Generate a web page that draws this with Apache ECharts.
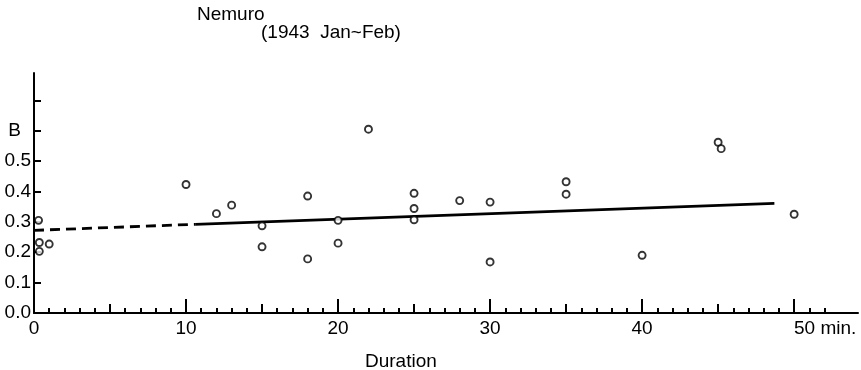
<!DOCTYPE html>
<html>
<head>
<meta charset="utf-8">
<script src="https://cdn.jsdelivr.net/npm/echarts@6/dist/echarts.min.js"></script>
<style>html,body{margin:0;padding:0;background:#fff}#c{width:861px;height:370px}</style>
</head>
<body>
<div id="c"></div>
<script>
// Observations: duration (min) and B
var durations = [0.3, 0.35, 1.0, 0.35, 10, 12, 13, 15, 15, 18, 18, 20, 20, 22, 25, 25, 25, 28, 30, 30, 35, 35, 40, 45, 45.2, 50];
var bValues   = [0.305, 0.232, 0.227, 0.203, 0.423, 0.327, 0.355, 0.287, 0.218, 0.385, 0.178, 0.305, 0.23, 0.605, 0.394, 0.344, 0.307, 0.37, 0.365, 0.168, 0.432, 0.391, 0.19, 0.562, 0.541, 0.325];
// Regression line: dashed (extrapolated) part and solid part
var fitDashedX = [0, 10.6];
var fitDashedY = [0.272, 0.292];
var fitSolidX = [10.6, 48.7];
var fitSolidY = [0.292, 0.361];
// Tick values
var yTicks = [0, 0.1, 0.2, 0.3, 0.4, 0.5, 0.6, 0.7];
var yTickLabels = ['0.0', '0.1', '0.2', '0.3', '0.4', '0.5', 'B', ''];
var xMinorTicks = [1,2,3,4,6,7,8,9,11,12,13,14,16,17,18,19,21,22,23,24,26,27,28,29,31,32,33,34,36,37,38,39,41,42,43,44,46,47,48,49,51,52];
var xMidTicks = [5, 15, 25, 35, 45];
var xMajorTicks = [0, 10, 20, 30, 40, 50];
var xMajorLabels = ['0', '10', '20', '30', '40', '50 min.'];

var FONT = '"Liberation Sans", Arial, sans-serif';
var chart = echarts.init(document.getElementById('c'));

function pairs(xs, ys) { return xs.map(function (x, i) { return [x, ys[i]]; }); }

function xAxisCfg(ticks, len, showLine, showLabels) {
  return {
    type: 'value', min: 0, max: 54.2, position: 'bottom', gridIndex: 0,
    axisLine: { show: showLine, onZero: false, lineStyle: { color: '#000', width: 2 } },
    splitLine: { show: false },
    axisTick: { show: true, inside: true, length: len, customValues: ticks, lineStyle: { color: '#000', width: 2 } },
    axisLabel: showLabels ? {
      show: true, customValues: xMajorTicks, margin: 6, color: '#000', fontFamily: FONT, fontSize: 19,
      formatter: function (v) {
        var i = xMajorTicks.indexOf(Math.round(v));
        var t = i >= 0 ? xMajorLabels[i] : '';
        return t.indexOf('min') >= 0 ? '{m|' + t + '}' : t;
      },
      rich: { m: { fontFamily: FONT, fontSize: 19, color: '#000', padding: [0, 0, 0, 62] } }
    } : { show: false }
  };
}

chart.setOption({
  animation: false,
  backgroundColor: '#fff',
  title: [
    { text: 'Nemuro', left: 192, top: 0, textStyle: { fontFamily: FONT, fontSize: 19, fontWeight: 'normal', color: '#000' } },
    { text: '(1943  Jan~Feb)', left: 256, top: 18, textStyle: { fontFamily: FONT, fontSize: 19, fontWeight: 'normal', color: '#000' } },
    { text: 'Duration', left: 360, top: 347, textStyle: { fontFamily: FONT, fontSize: 19, fontWeight: 'normal', color: '#000' } }
  ],
  grid: { left: 34, right: 3, top: 73, bottom: 57, containLabel: false },
  xAxis: [
    xAxisCfg(xMinorTicks, 5, true, true),
    xAxisCfg(xMidTicks, 9, false, false),
    xAxisCfg(xMajorTicks, 14, false, false)
  ],
  yAxis: {
    type: 'value', min: 0, max: 0.79,
    axisLine: { show: true, onZero: false, lineStyle: { color: '#000', width: 2 } },
    splitLine: { show: false },
    axisTick: { show: true, inside: true, length: 7, customValues: yTicks.slice(1), lineStyle: { color: '#000', width: 2 } },
    axisLabel: {
      show: true, customValues: yTicks, margin: 3, color: '#000', fontFamily: FONT, fontSize: 19,
      formatter: function (v) {
        var i = yTicks.indexOf(Math.round(v * 10) / 10);
        var t = i >= 0 ? yTickLabels[i] : '';
        return t === 'B' ? '{b|B}' : t;
      },
      rich: { b: { fontFamily: FONT, fontSize: 19, color: '#000', padding: [0, 10, 0, 0] } }
    }
  },
  series: [
    {
      type: 'line', xAxisIndex: 0, data: pairs(fitDashedX, fitDashedY), showSymbol: false, symbol: 'none',
      lineStyle: { color: '#000', width: 2.8, type: [10, 6] }, z: 2
    },
    {
      type: 'line', xAxisIndex: 0, data: pairs(fitSolidX, fitSolidY), showSymbol: false, symbol: 'none',
      lineStyle: { color: '#000', width: 2.8 }, z: 2
    },
    {
      type: 'scatter', xAxisIndex: 0, data: pairs(durations, bValues), symbol: 'circle', symbolSize: 7,
      itemStyle: { color: '#fff', borderColor: '#000', borderWidth: 1.9 }, z: 3
    }
  ]
});
</script>
</body>
</html>
